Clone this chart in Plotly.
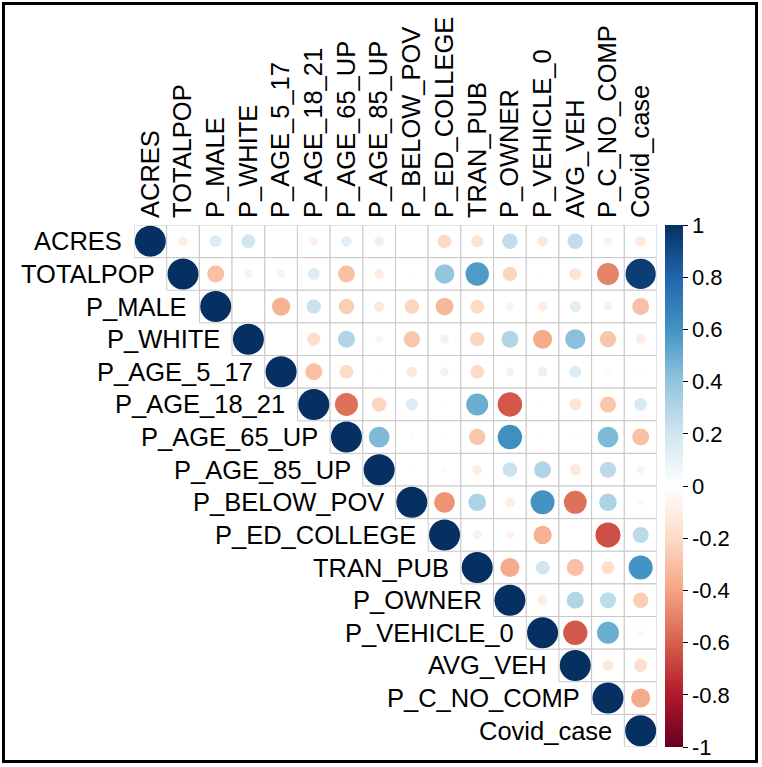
import plotly.graph_objects as go
import numpy as np

variables = ["ACRES", "TOTALPOP", "P_MALE", "P_WHITE", "P_AGE_5_17", "P_AGE_18_21",
             "P_AGE_65_UP", "P_AGE_85_UP", "P_BELOW_POV", "P_ED_COLLEGE", "TRAN_PUB",
             "P_OWNER", "P_VEHICLE_0", "AVG_VEH", "P_C_NO_COMP", "Covid_case"]

# upper-triangle correlations, each row starts at its diagonal
row_acres = [1, -0.10, 0.15, 0.20, 0.00, -0.08, 0.12, 0.10, 0.00, -0.20, -0.15, 0.25, -0.12, 0.25, 0.07, -0.12]
row_totalpop = [1, -0.30, -0.07, 0.07, 0.15, -0.30, -0.10, -0.02, 0.40, 0.57, -0.22, -0.02, -0.15, -0.50, 0.95]
row_p_male = [1, 0.00, -0.35, 0.22, -0.25, -0.12, -0.22, -0.33, -0.20, -0.07, -0.10, 0.13, 0.08, -0.30]
row_p_white = [1, 0.01, -0.18, 0.30, 0.06, -0.28, 0.08, -0.22, 0.30, -0.38, 0.42, -0.28, -0.10]
row_p_age_5_17 = [1, -0.30, -0.20, 0.02, -0.12, 0.08, -0.20, 0.08, 0.10, 0.15, -0.03, 0.02]
row_p_age_18_21 = [1, -0.55, -0.22, 0.15, -0.02, 0.50, -0.62, 0.02, -0.15, -0.27, 0.17]
row_p_age_65_up = [1, 0.45, -0.03, 0.02, -0.28, 0.62, -0.02, 0.02, 0.45, -0.30]
row_p_age_85_up = [1, -0.02, 0.03, -0.10, 0.22, 0.30, -0.13, 0.27, -0.07]
row_p_below_pov = [1, -0.45, 0.32, -0.10, 0.60, -0.55, 0.32, 0.04]
row_p_ed_college = [1, 0.08, -0.07, -0.35, 0.01, -0.65, 0.27]
row_tran_pub = [1, -0.38, 0.20, -0.30, -0.18, 0.60]
row_p_owner = [1, -0.10, 0.30, 0.27, -0.25]
row_p_vehicle_0 = [1, -0.62, 0.50, 0.04]
row_avg_veh = [1, -0.13, -0.18]
row_p_c_no_comp = [1, -0.38]
row_covid_case = [1]

upper_rows = [row_acres, row_totalpop, row_p_male, row_p_white, row_p_age_5_17,
              row_p_age_18_21, row_p_age_65_up, row_p_age_85_up, row_p_below_pov,
              row_p_ed_college, row_tran_pub, row_p_owner, row_p_vehicle_0,
              row_avg_veh, row_p_c_no_comp, row_covid_case]

colorbar_ticks = [1, 0.8, 0.6, 0.4, 0.2, 0, -0.2, -0.4, -0.6, -0.8, -1]
colorbar_labels = ["1", "0.8", "0.6", "0.4", "0.2", "0", "-0.2", "-0.4", "-0.6", "-0.8", "-1"]

rdbu = ["#67001F", "#B2182B", "#D6604D", "#F4A582", "#FDDBC7", "#FFFFFF",
        "#D1E5F0", "#92C5DE", "#4393C3", "#2166AC", "#053061"]
colorscale = [[k / (len(rdbu) - 1), c] for k, c in enumerate(rdbu)]

W, H = 762, 767
ML, MR, MT, MB = 134, 105, 225, 20
PW, PH = W - ML - MR, H - MT - MB
FONT = "Arial, Liberation Sans, sans-serif"
MAXD = 31

xs, ys, vals = [], [], []
for i, row in enumerate(upper_rows):
    for k, v in enumerate(row):
        xs.append(i + k)
        ys.append(i)
        vals.append(v)
vals = np.array(vals)
sizes = MAXD * np.sqrt(np.abs(vals))

fig = go.Figure()
fig.add_trace(go.Scatter(
    x=xs, y=ys, mode="markers",
    marker=dict(size=sizes, color=vals, colorscale=colorscale, cmin=-1, cmax=1,
                opacity=1, line=dict(width=0),
                colorbar=dict(
                    thickness=18, len=PH, lenmode="pixels",
                    x=(665 - ML) / PW, xanchor="left", xpad=0,
                    y=1, yanchor="top", ypad=0,
                    outlinewidth=0,
                    tickvals=colorbar_ticks, ticktext=colorbar_labels,
                    ticks="outside", ticklen=5, tickcolor="black", tickwidth=1,
                    tickfont=dict(family=FONT, size=22, color="black"))),
    hoverinfo="skip", showlegend=False))

shapes = []
n = len(variables)
for i in range(n):
    for j in range(i, n):
        shapes.append(dict(type="rect", xref="x", yref="y",
                           x0=j - 0.5, x1=j + 0.5, y0=i - 0.5, y1=i + 0.5,
                           line=dict(color="#C8C8C8", width=1), fillcolor="white",
                           layer="below"))

def px_x(p):
    return (p - ML) / PW

def px_y(p):
    return 1 - (p - MT) / PH

shapes.append(dict(type="rect", xref="paper", yref="paper",
                   x0=px_x(3.5), x1=px_x(756.5), y0=px_y(3.5), y1=px_y(761.5),
                   line=dict(color="black", width=3), fillcolor="rgba(0,0,0,0)"))

annotations = []
for i, name in enumerate(variables):
    annotations.append(dict(x=i - 0.5, y=i, xref="x", yref="y", text=name,
                            showarrow=False, xanchor="right", yanchor="middle",
                            xshift=-10, font=dict(family=FONT, size=25.5, color="black")))

fig.update_layout(
    width=W, height=H, margin=dict(l=ML, r=MR, t=MT, b=MB, autoexpand=False),
    paper_bgcolor="white", plot_bgcolor="white",
    shapes=shapes, annotations=annotations,
    xaxis=dict(range=[-0.5, n - 0.5], side="top", tickmode="array",
               tickvals=list(range(n)), ticktext=variables, tickangle=-90,
               showgrid=False, zeroline=False, showline=False, ticks="",
               ticklabelstandoff=6,
               tickfont=dict(family=FONT, size=25.5, color="black")),
    yaxis=dict(range=[n - 0.5, -0.5], showticklabels=False, showgrid=False,
               zeroline=False, showline=False, ticks=""),
)

fig.write_html("out.html", config={"displayModeBar": False},
               post_script="document.body.style.margin='0px';document.body.style.padding='0px';")
